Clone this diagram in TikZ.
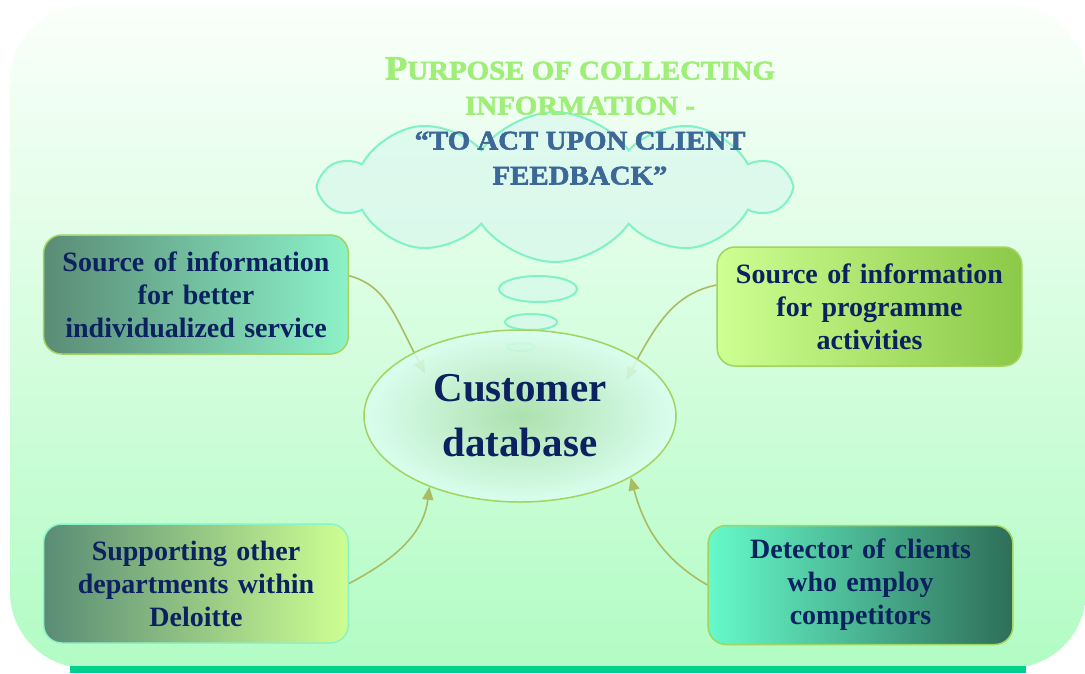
\documentclass[tikz,border=0pt]{standalone}
\usepackage{fontspec}
\setmainfont{Liberation Serif}
\newfontfamily\titlefont{Liberation Serif}[FakeBold=2,FakeStretch=1.07]
\usetikzlibrary{arrows.meta,positioning,shapes.geometric,shapes.symbols}
\definecolor{Navy}{HTML}{0B2160}
\definecolor{BgTop}{HTML}{FAFFFA}
\definecolor{BgBot}{HTML}{B2FCC4}
\definecolor{Bar}{HTML}{00CF8E}
\definecolor{Olive}{HTML}{A9BC62}
\definecolor{Lime}{HTML}{A2D45E}
\definecolor{Aqua}{HTML}{8CF2C8}
\definecolor{DeepTeal}{HTML}{5A8C76}
\definecolor{PaleLime}{HTML}{CEFF92}
\definecolor{Grass}{HTML}{8BC948}
\definecolor{Mint}{HTML}{66FACB}
\definecolor{Forest}{HTML}{2E6E58}
\definecolor{CloudLine}{HTML}{80F2C6}
\definecolor{CloudFill}{HTML}{D6F7EE}
\definecolor{TitleGreen}{HTML}{9EEE78}
\definecolor{TitleBlue}{HTML}{3C6898}
\definecolor{DbFill}{HTML}{DCFFF2}
\definecolor{DbEye}{HTML}{A8DCA8}
\pgfdeclarelayer{bg}
\pgfdeclarelayer{links}
\pgfsetlayers{bg,links,main}
\newcommand\capP{{\fontsize{34}{34}\selectfont P}}
\tikzset{
 card/.style={draw=Lime, line width=1.5pt, rounded corners=18pt, minimum width=302pt, minimum height=119pt, text width=298pt, align=center, font=\fontsize{28}{33}\selectfont\bfseries, text=Navy},
 link/.style={-{Triangle[length=13pt,width=11pt]}, draw=Olive, line width=1.6pt},
 bubble/.style={ellipse, draw=CloudLine, line width=2pt, fill=CloudFill, fill opacity=0.5, inner sep=0pt}
}
\begin{document}
\begin{tikzpicture}[x=1pt,y=-1pt]
\useasboundingbox (0,0) rectangle (1085,673);
\begin{pgfonlayer}{bg}
\shade[top color=BgTop, bottom color=BgBot, rounded corners=76pt] (10,5) rectangle (1086,668);
\fill[Bar] (70,666) rectangle (1026,673);
\node[cloud, cloud puffs=10, cloud puff arc=110, aspect=3.8, draw=CloudLine, line width=2pt, fill=CloudFill, fill opacity=0.6, minimum width=466pt, minimum height=150pt] (cloud) at (555,187) {};
\node[bubble, minimum width=78pt, minimum height=26pt] (b1) at (538,289) {};
\node[bubble, minimum width=52pt, minimum height=16pt] (b2) at (531,322) {};
\node[bubble, minimum width=27pt, minimum height=8pt] (b3) at (521,347) {};
\end{pgfonlayer}
\node[ellipse, draw=Lime, line width=1.5pt, inner color=DbEye, outer color=DbFill, fill opacity=0.85, text opacity=1, minimum width=312pt, minimum height=172pt, font=\fontsize{41}{55}\selectfont\bfseries, text=Navy, align=center] (db) at (520,416) {Customer\\database};
\node[card, left color=DeepTeal, right color=Aqua] (tl) at (196,294.5) {Source of information\\for better\\individualized service};
\node[card, left color=PaleLime, right color=Grass] (tr) at (869.5,306.5) {Source of information\\for programme\\activities};
\node[card, draw=Aqua, left color=DeepTeal, right color=PaleLime] (bl) at (196,583.5) {Supporting other\\departments within\\Deloitte};
\node[card, left color=Mint, right color=Forest] (br) at (860.5,585) {Detector of clients\\who employ\\competitors};
\begin{pgfonlayer}{links}
\draw[link, shorten >=-24pt] (tl.7) to[out=-15,in=118] (db.149);
\draw[link, shorten >=-24pt] (tr.172) to[out=192,in=62] (db.26);
\end{pgfonlayer}
\draw[link] (bl.east) to[out=28,in=-97] (db.218);
\draw[link] (br.west) to[out=150,in=-75] (db.331);
\node[font=\titlefont\bfseries\fontsize{27}{35}\selectfont, align=center] (title) at (580,121) {\color{TitleGreen}\capP URPOSE OF COLLECTING\\\color{TitleGreen}INFORMATION -\\\color{TitleBlue}“TO ACT UPON CLIENT\\\color{TitleBlue}FEEDBACK”};
\end{tikzpicture}
\end{document}
